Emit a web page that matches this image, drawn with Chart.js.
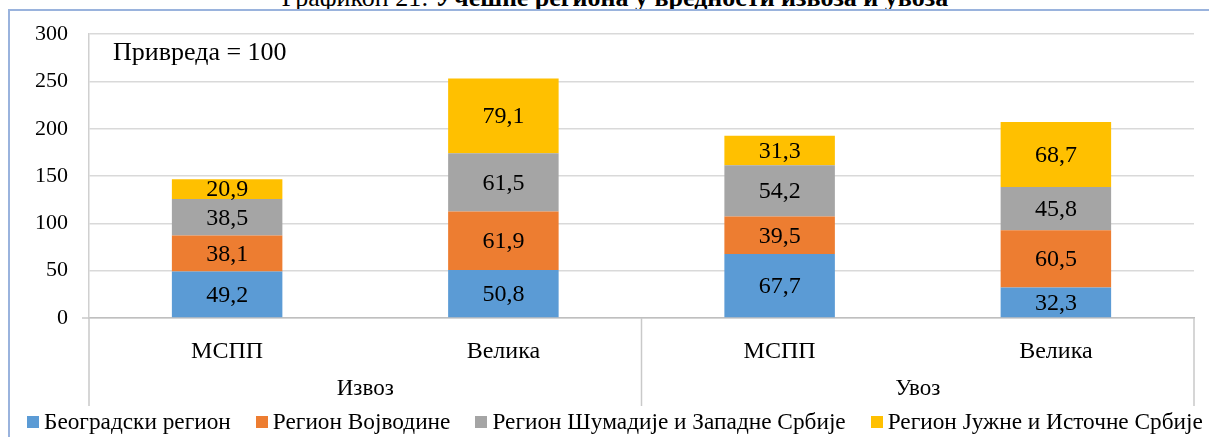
<!DOCTYPE html>
<html lang="sr">
<head>
<meta charset="utf-8">
<title>Графикон 21</title>
<script src="https://cdn.jsdelivr.net/npm/chart.js@4.4.1/dist/chart.umd.min.js"></script>
<style>
  html, body { margin: 0; padding: 0; background: #fff; }
  #okvir { position: relative; width: 1209px; height: 437px; overflow: hidden; font-family: "Liberation Serif", "Times New Roman", serif; }
  #naslov { position: absolute; top: -15px; left: 0; width: 1230px; text-align: center; font-size: 26px; line-height: 26px; white-space: nowrap; }
  #ivica { position: absolute; left: 8px; top: 9px; width: 1400px; height: 600px; border-left: 2px solid #9AB3DD; border-top: 2px solid #9AB3DD; }
  #grafikon { position: absolute; left: 0; top: 0; }
  #legenda { position: absolute; left: 27px; top: 408px; white-space: nowrap; font-size: 23.3px; line-height: 26px; }
  #legenda span.stavka { display: inline-block; margin-right: 25px; }
  #legenda span.kvadrat { display: inline-block; width: 12px; height: 12px; margin-right: 5px; vertical-align: 1px; }
</style>
</head>
<body>
<div id="okvir">
  <div id="naslov">Графикон 21: <b>Учешће региона у вредности извоза и увоза</b></div>
  <div id="ivica"></div>
  <canvas id="grafikon" width="1209" height="437"></canvas>
  <div id="legenda"></div>
</div>
<script>
// --- Podaci ---
const kategorije = ['МСПП', 'Велика', 'МСПП', 'Велика'];
const grupe = ['Извоз', 'Увоз'];
const regioni = ['Београдски регион', 'Регион Војводине', 'Регион Шумадије и Западне Србије', 'Регион Јужне и Источне Србије'];
const beogradski = [49.2, 50.8, 67.7, 32.3];
const vojvodina = [38.1, 61.9, 39.5, 60.5];
const sumadija = [38.5, 61.5, 54.2, 45.8];
const jugIstok = [20.9, 79.1, 31.3, 68.7];
const yPodeoci = [0, 50, 100, 150, 200, 250, 300];

const boje = ['#5B9BD5', '#ED7D31', '#A5A5A5', '#FFC000'];
const FONT = '"Liberation Serif", "Times New Roman", serif';

function formatBroj(v) {
    return v.toFixed(1).replace('.', ',');
}

// Oznake vrednosti, separatori kategorija, grupe i napomena
const oznakePlugin = {
    id: 'oznake',
    afterDatasetsDraw(chart) {
        const ctx = chart.ctx;
        ctx.save();
        ctx.font = '24px ' + FONT;
        ctx.fillStyle = '#000';
        ctx.textAlign = 'center';
        ctx.textBaseline = 'middle';
        chart.data.datasets.forEach((ds, i) => {
            chart.getDatasetMeta(i).data.forEach((bar, j) => {
                ctx.fillText(formatBroj(ds.data[j]), bar.x, (bar.y + bar.base) / 2 + 1);
            });
        });
        ctx.restore();
    },
    afterDraw(chart) {
        const ctx = chart.ctx;
        const area = chart.chartArea;
        const x = chart.scales.x;
        const sredina = (x.getPixelForValue(1) + x.getPixelForValue(2)) / 2;
        ctx.save();
        ctx.strokeStyle = '#C9C9C9';
        ctx.lineWidth = 1.5;
        ctx.beginPath();
        [area.left, sredina, area.right].forEach(px => {
            ctx.moveTo(px, area.bottom);
            ctx.lineTo(px, 406);
        });
        ctx.moveTo(area.left - 7, area.bottom);
        ctx.lineTo(area.left, area.bottom);
        ctx.stroke();

        ctx.font = '23px ' + FONT;
        ctx.fillStyle = '#000';
        ctx.textAlign = 'center';
        ctx.textBaseline = 'middle';
        ctx.fillText(grupe[0], (area.left + sredina) / 2, 389);
        ctx.fillText(grupe[1], (sredina + area.right) / 2, 389);

        ctx.font = '26px ' + FONT;
        ctx.textAlign = 'left';
        ctx.fillText('Привреда = 100', 113, 53);
        ctx.restore();
    }
};

const serije = [beogradski, vojvodina, sumadija, jugIstok];

new Chart(document.getElementById('grafikon'), {
    type: 'bar',
    data: {
        labels: kategorije,
        datasets: serije.map((s, i) => ({
            label: regioni[i],
            data: s,
            backgroundColor: boje[i],
            borderWidth: 0,
            barPercentage: 0.4,
            categoryPercentage: 1
        }))
    },
    options: {
        responsive: false,
        animation: false,
        layout: { padding: { top: 32, right: 15, left: 0, bottom: 0 } },
        plugins: { legend: { display: false }, tooltip: { enabled: false } },
        scales: {
            x: {
                stacked: true,
                grid: { display: false },
                border: { display: true, color: '#BFBFBF', width: 1.5 },
                ticks: { color: '#000', font: { family: FONT, size: 24 }, padding: 11 },
                afterFit(scale) { scale.height = 119; }
            },
            y: {
                stacked: true,
                min: yPodeoci[0],
                max: yPodeoci[yPodeoci.length - 1],
                afterBuildTicks(scale) { scale.ticks = yPodeoci.map(v => ({ value: v })); },
                grid: { color: '#D9D9D9', lineWidth: 1.5, drawTicks: false },
                border: { display: true, color: '#D0D0D0', width: 1.5 },
                ticks: { color: '#000', font: { family: FONT, size: 22 }, padding: 21 },
                afterFit(scale) { scale.width = 89; }
            }
        }
    },
    plugins: [oznakePlugin]
});

// Legenda (odsečena desno kao u originalu)
const legenda = document.getElementById('legenda');
regioni.forEach((r, i) => {
    const s = document.createElement('span');
    s.className = 'stavka';
    s.innerHTML = '<span class="kvadrat" style="background:' + boje[i] + '"></span>' + r;
    legenda.appendChild(s);
});
</script>
</body>
</html>
